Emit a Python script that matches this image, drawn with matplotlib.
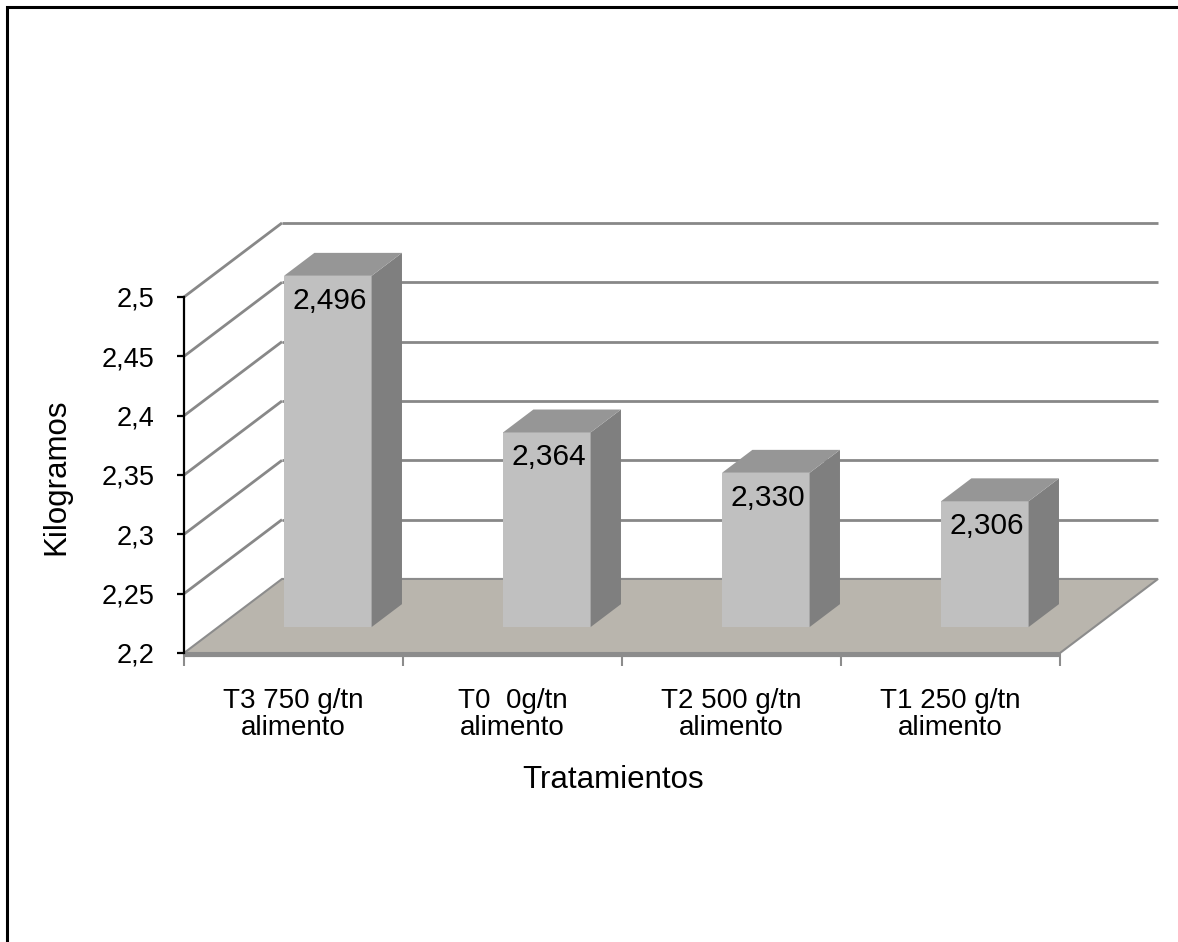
import numpy as np
import matplotlib.pyplot as plt
from matplotlib.patches import Polygon, Rectangle

plt.rcParams['font.family'] = ['Liberation Sans', 'DejaVu Sans']

# datos del ensayo (peso en kg)
tratamientos = ['T3 750 g/tn\nalimento', 'T0  0g/tn\nalimento',
                'T2 500 g/tn\nalimento', 'T1 250 g/tn\nalimento']
kilos = [2.496, 2.364, 2.330, 2.306]
etiquetas = ['2,496', '2,364', '2,330', '2,306']
yticks = [2.2, 2.25, 2.3, 2.35, 2.4, 2.45, 2.5]
yticklabels = ['2,2', '2,25', '2,3', '2,35', '2,4', '2,45', '2,5']

ymin, ymax = 2.2, 2.5
n = len(kilos)

# vector de profundidad (fondo del grafico 3D) en unidades de datos
DX, DY = 0.4475, 0.0624
f0, f1 = 0.35, 0.66       # cara frontal y trasera de las barras
ancho = 0.40

fig = plt.figure(figsize=(11.78, 9.42), dpi=100)
ax = fig.add_axes([184/1178, 289/942, 876/1178, 356/942])
ax.set_xlim(0, n)
ax.set_ylim(ymin, ymax)
ax.set_facecolor('none')

grid_col = '#888888'
# pared de fondo y pared lateral
for v in yticks[1:]:
    ax.plot([DX, n + DX], [v + DY, v + DY], color=grid_col, lw=2, zorder=1,
            clip_on=False, solid_capstyle='butt')
    ax.plot([0, DX], [v, v + DY], color=grid_col, lw=2, zorder=1,
            clip_on=False, solid_capstyle='butt')

# piso
piso = Polygon([(0, ymin), (n, ymin), (n + DX, ymin + DY), (DX, ymin + DY)],
               closed=True, facecolor='#B9B5AD', edgecolor='#8C8C8C', lw=1.5,
               zorder=2, clip_on=False)
ax.add_patch(piso)
ax.plot([0, n], [ymin - 0.0015, ymin - 0.0015], color='#8C8C8C', lw=3,
        zorder=2, clip_on=False, solid_capstyle='butt')

# barras 3D
for i, v in enumerate(kilos):
    x0 = i + 0.5 - ancho / 2
    x1 = i + 0.5 + ancho / 2
    bx0, bx1 = x0 + f0 * DX, x1 + f0 * DX
    b0, top = ymin + f0 * DY, v + f0 * DY
    ddx, ddy = (f1 - f0) * DX, (f1 - f0) * DY
    frente = Polygon([(bx0, b0), (bx1, b0), (bx1, top), (bx0, top)],
                     facecolor='#C0C0C0', edgecolor='none', zorder=3, clip_on=False)
    lado = Polygon([(bx1, b0), (bx1 + ddx, b0 + ddy), (bx1 + ddx, top + ddy), (bx1, top)],
                   facecolor='#7F7F7F', edgecolor='none', zorder=3, clip_on=False)
    tapa = Polygon([(bx0, top), (bx1, top), (bx1 + ddx, top + ddy), (bx0 + ddx, top + ddy)],
                   facecolor='#969696', edgecolor='none', zorder=3, clip_on=False)
    for p in (frente, lado, tapa):
        ax.add_patch(p)
    ax.text((bx0 + bx1) / 2 + 0.01, v + 0.001, etiquetas[i], ha='center', va='center',
            fontsize=21.5, color='black', zorder=5, clip_on=False)

# ejes
for s in ['top', 'right', 'bottom']:
    ax.spines[s].set_visible(False)
ax.spines['left'].set_linewidth(1.6)
ax.spines['left'].set_zorder(4)
ax.set_yticks(yticks)
ax.set_yticklabels(yticklabels)
ax.tick_params(axis='y', direction='out', length=5, width=1.6, labelsize=19.5, pad=16)

ax.set_xticks(np.arange(n + 1))
ax.set_xticklabels([])
ax.set_xticks(np.arange(n) + 0.5, minor=True)
ax.set_xticklabels(tratamientos, minor=True, fontsize=20, linespacing=1.05)
ax.tick_params(axis='x', which='major', direction='out', length=9, width=1.5,
               color='#8C8C8C')
ax.tick_params(axis='x', which='minor', length=0, pad=25)

fig.text(613/1178, 1 - 780/942, 'Tratamientos', ha='center', va='center', fontsize=22.5)
fig.text(56/1178, 1 - 477/942, 'Kilogramos', ha='center', va='center',
         rotation=90, fontsize=22.5)

# marco exterior
fig.patches.append(Rectangle((7/1178, -0.05), 1.1, 1 - 7/942 + 0.05,
                             transform=fig.transFigure, fill=False,
                             edgecolor='black', lw=2.2))

fig.savefig('out.png', dpi=100)
